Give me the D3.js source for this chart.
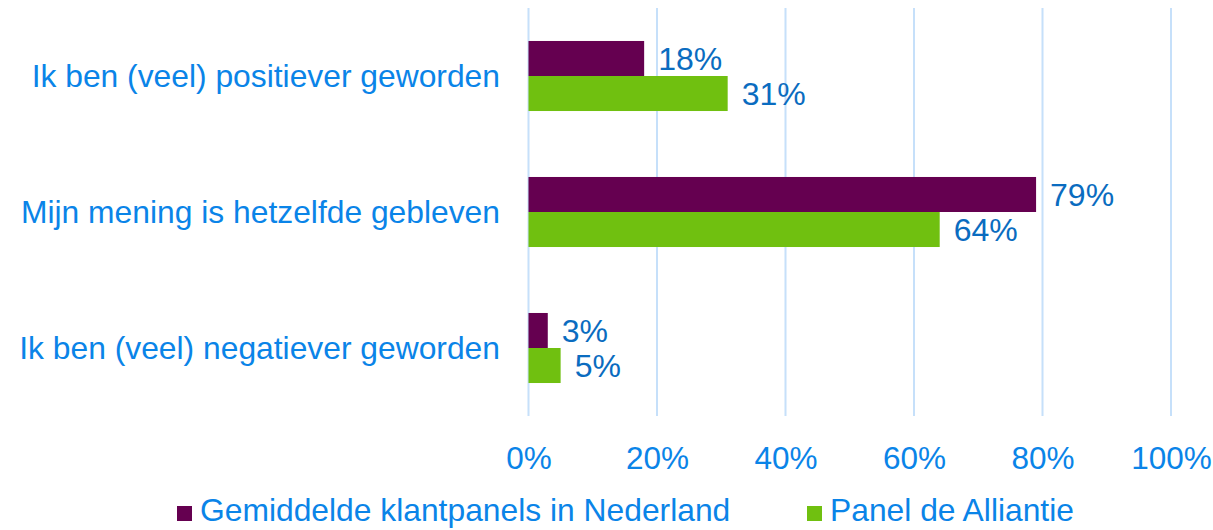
<!DOCTYPE html>
<html>
<head>
<meta charset="utf-8">
<script src="https://cdn.jsdelivr.net/npm/d3@7"></script>
<style>
body { margin: 0; background: #fff; }
text { font-family: "Liberation Sans", Arial, sans-serif; }
</style>
</head>
<body>
<div id="chart"></div>
<script>
var width = 1213;
var height = 530;

// data
var categories = ['Ik ben (veel) positiever geworden', 'Mijn mening is hetzelfde gebleven', 'Ik ben (veel) negatiever geworden'];
var seriesNames = ['Gemiddelde klantpanels in Nederland', 'Panel de Alliantie'];
var gemiddelde = [18, 79, 3];
var alliantie = [31, 64, 5];
var tickValues = [0, 20, 40, 60, 80, 100];
var colors = ['#650050', '#70c010'];

var margin = {top: 8, right: 42, bottom: 114, left: 528.5};

var svg = d3.select('#chart')
	.append('svg')
	.attr('width', width)
	.attr('height', height);

var x = d3.scaleLinear()
	.domain([0, 100])
	.range([margin.left, width - margin.right]);

var y = d3.scaleBand()
	.domain(categories)
	.range([margin.top, height - margin.bottom])
	.paddingInner(0.485)
	.paddingOuter(0.2425);

var sub = d3.scaleBand()
	.domain([0, 1])
	.range([0, y.bandwidth()]);

// gridlines
svg.append('g')
	.selectAll('line')
	.data(tickValues)
	.enter()
	.append('line')
	.attr('x1', function(d){ return x(d); })
	.attr('x2', function(d){ return x(d); })
	.attr('y1', margin.top)
	.attr('y2', height - margin.bottom)
	.attr('stroke', '#c6e0fa')
	.attr('stroke-width', 2);

// bars
var rows = categories.map(function(c, i){
	return [{cat: c, s: 0, v: gemiddelde[i]}, {cat: c, s: 1, v: alliantie[i]}];
});
var flat = [].concat.apply([], rows);

svg.append('g')
	.selectAll('rect')
	.data(flat)
	.enter()
	.append('rect')
	.attr('x', x(0))
	.attr('y', function(d){ return y(d.cat) + sub(d.s); })
	.attr('width', function(d){ return x(d.v) - x(0); })
	.attr('height', sub.bandwidth())
	.attr('fill', function(d){ return colors[d.s]; });

// value labels
svg.append('g')
	.selectAll('text')
	.data(flat)
	.enter()
	.append('text')
	.attr('x', function(d){ return x(d.v) + 14; })
	.attr('y', function(d){ return y(d.cat) + sub(d.s) + sub.bandwidth() / 2; })
	.attr('dy', '0.36em')
	.attr('font-size', 32)
	.attr('fill', '#0a6cc0')
	.text(function(d){ return d.v + '%'; });

// category labels
svg.append('g')
	.selectAll('text')
	.data(categories)
	.enter()
	.append('text')
	.attr('x', 500)
	.attr('y', function(d){ return y(d) + y.bandwidth() / 2; })
	.attr('dy', '0.36em')
	.attr('text-anchor', 'end')
	.attr('font-size', 31.8)
	.attr('fill', '#0a84e8')
	.text(function(d){ return d; });

// x axis
var xAxis = d3.axisBottom(x)
	.tickValues(tickValues)
	.tickSize(0)
	.tickPadding(0)
	.tickFormat(function(d){ return d + '%'; });

var gx = svg.append('g')
	.attr('transform', 'translate(0,' + 469 + ')')
	.call(xAxis);
gx.select('.domain').remove();
gx.selectAll('text')
	.attr('dy', 0)
	.attr('font-size', 31.5)
	.attr('font-family', '"Liberation Sans", Arial, sans-serif')
	.attr('fill', '#0a84e8');

// legend
var legendX = [177, 807];
var legend = svg.append('g')
	.selectAll('g')
	.data(seriesNames)
	.enter()
	.append('g')
	.attr('transform', function(d, i){ return 'translate(' + legendX[i] + ',' + 521 + ')'; });

legend.append('rect')
	.attr('x', 0)
	.attr('y', -15)
	.attr('width', 15)
	.attr('height', 15)
	.attr('fill', function(d, i){ return colors[i]; });

legend.append('text')
	.attr('x', 23)
	.attr('y', 0)
	.attr('font-size', 31.8)
	.attr('fill', '#0a84e8')
	.text(function(d){ return d; });
</script>
</body>
</html>
